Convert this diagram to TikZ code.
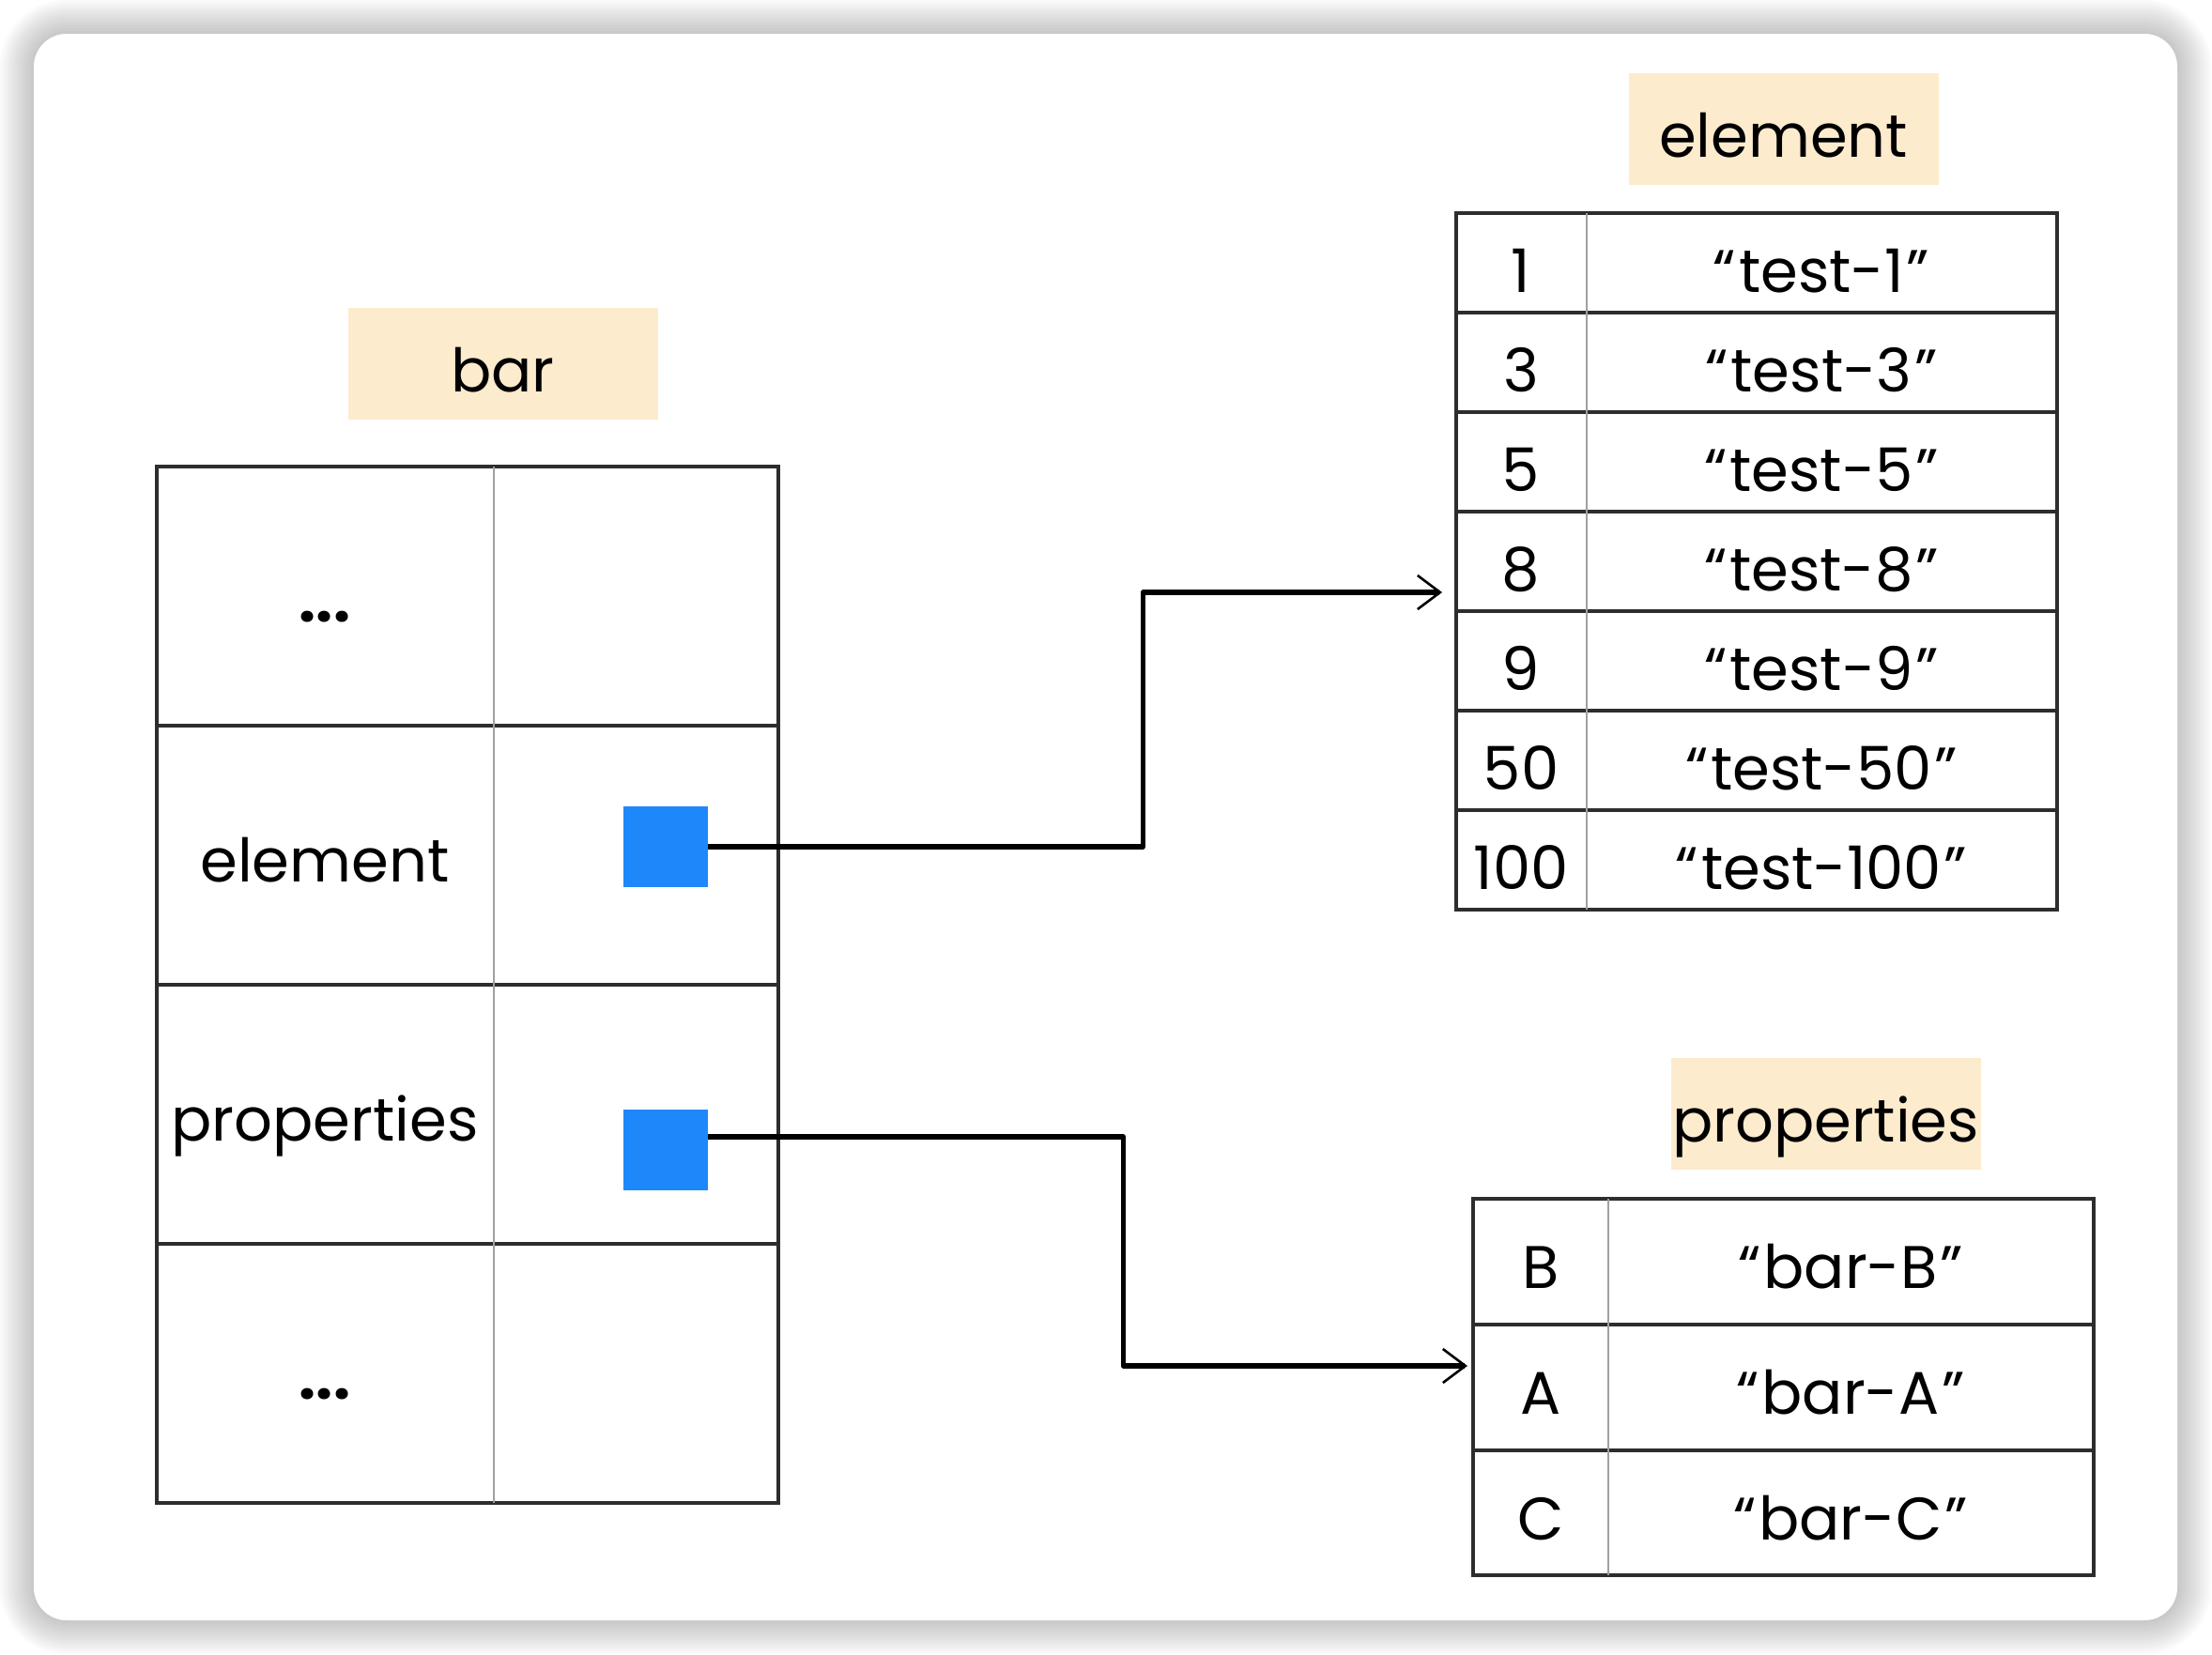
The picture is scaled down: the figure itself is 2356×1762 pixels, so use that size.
\documentclass[tikz,border=0pt]{standalone}
\usepackage{fontspec}
\setmainfont{Poppins}
\usetikzlibrary{arrows.meta}

\definecolor{labelfill}{RGB}{252,235,205}
\definecolor{ptrblue}{RGB}{30,136,250}
\definecolor{gridline}{RGB}{45,45,45}
\definecolor{innerline}{RGB}{160,160,160}

\newcommand{\quoted}[1]{“\kern1.5pt#1\kern1.5pt”}

\tikzset{
  txt/.style={font=\fontsize{32}{32}\selectfont, inner sep=0pt, text height=22pt, text depth=0pt},
  titlebox/.style={fill=labelfill, minimum width=165pt, minimum height=59.5pt, inner sep=0pt,
                   font=\fontsize{32}{32}\selectfont, text height=30pt, text depth=0pt},
  pointer/.style={fill=ptrblue, minimum width=45pt, minimum height=43pt, inner sep=0pt},
  frame/.style={draw=gridline, line width=2pt},
  rowline/.style={draw=gridline, line width=2pt},
  colline/.style={draw=innerline, line width=1pt},
  conn/.style={draw=black, line width=2.6pt, line join=round,
               -{Straight Barb[length=12pt,width=18pt,line width=1.3pt]}}
}

\begin{document}
\begin{tikzpicture}[x=0.5pt, y=-0.5pt]
  \useasboundingbox (0,0) rectangle (2356,1762);

  % soft shadow round the card
  \foreach \i in {1,...,12}{
    \pgfmathsetmacro\rr{17.5+1.5*\i}
    \fill[black, opacity=0.018, rounded corners=\rr pt]
      ({36-3*\i},{36-3*\i}) rectangle ({2319+3*\i},{1726+3*\i});
  }
  % card
  \fill[white, rounded corners=17.5pt] (36,36) rectangle (2319,1726);

  % ---------- bar ----------
  \node[titlebox] (barT) at (535.5,387.5) {bar};

  \draw[frame] (167,497) rectangle (829,1601);
  \foreach \yy in {773,1049,1325} \draw[rowline] (167,\yy) -- (829,\yy);
  \draw[colline] (526,497) -- (526,1601);

  \node[txt] (bDots1) at (346,640) {\textbf{...}};
  \node[txt] (bElem)  at (346,917) {element};
  \node[txt] (bProp)  at (346,1193) {properties};
  \node[txt] (bDots2) at (346,1468) {\textbf{...}};

  \node[pointer] (sqE) at (709,902) {};
  \node[pointer] (sqP) at (709,1225) {};

  % ---------- element ----------
  \node[titlebox] (elemT) at (1899.5,137.5) {element};

  \draw[frame] (1551,227) rectangle (2191,969);
  \foreach \yy in {333,439,545,651,757,863} \draw[rowline] (1551,\yy) -- (2191,\yy);
  \draw[colline] (1690,227) -- (1690,969);

  \foreach \k/\key/\val in {0/1/test-1, 1/3/test-3, 2/5/test-5, 3/8/test-8,
                           4/9/test-9, 5/50/test-50, 6/100/test-100}{
    \node[txt] (ek\k) at (1620,{289+106*\k}) {\key};
    \node[txt] (ev\k) at (1940,{289+106*\k}) {\quoted{\val}};
  }

  % ---------- properties ----------
  \node[titlebox] (propT) at (1944.5,1186.5) {properties};

  \draw[frame] (1569,1277) rectangle (2230,1678);
  \foreach \yy in {1411,1545} \draw[rowline] (1569,\yy) -- (2230,\yy);
  \draw[colline] (1713,1277) -- (1713,1678);

  \foreach \k/\key/\val in {0/B/bar-B, 1/A/bar-A, 2/C/bar-C}{
    \node[txt] (pk\k) at (1641,{1350+134*\k}) {\key};
    \node[txt] (pv\k) at (1971,{1350+134*\k}) {\quoted{\val}};
  }

  % ---------- pointers ----------
  \coordinate (eTip) at (1536,631);
  \coordinate (pTip) at (1563,1455);
  \draw[conn] (sqE.east) -- ++(463,0) |- (eTip);
  \draw[conn] ([yshift=7pt]sqP.east) -- ++(442,0) |- (pTip);
\end{tikzpicture}
\end{document}
